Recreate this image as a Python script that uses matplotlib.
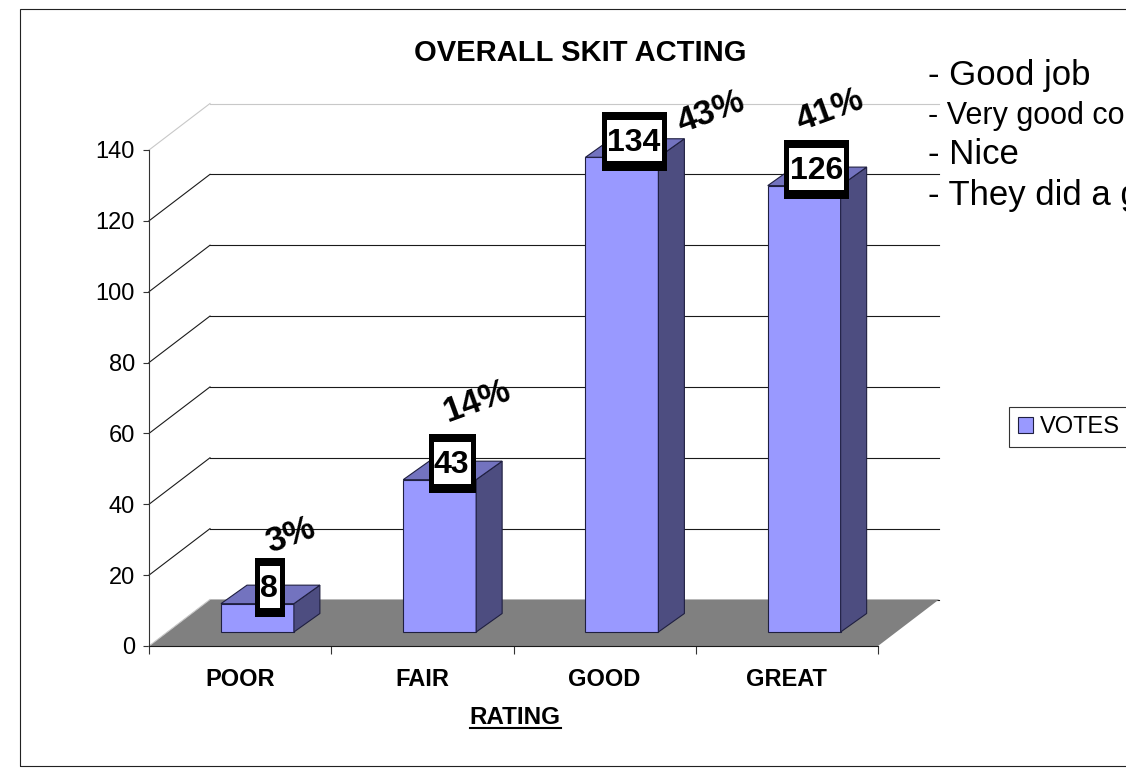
import numpy as np
import matplotlib
matplotlib.use("Agg")
import matplotlib.pyplot as plt
from matplotlib.lines import Line2D
from matplotlib.patches import Rectangle
from matplotlib.path import Path

categories = ["POOR", "FAIR", "GOOD", "GREAT"]
votes = [8, 43, 134, 126]
percents = ["3%", "14%", "43%", "41%"]
y_ticks = [0, 20, 40, 60, 80, 100, 120, 140]
comments = ["- Good job", "- Very good co", "- Nice", "- They did a g"]

W, H = 1126, 778
plt.rcParams["font.family"] = ["Liberation Sans", "DejaVu Sans"]

fig = plt.figure(figsize=(W / 100, H / 100), dpi=100)
# front plane of the fake 3d box, in pixels: x 149-878, y 150-646
ax = fig.add_axes([149 / W, 1 - 646 / H, 729 / W, 496 / H])
ax.set_xlim(0, 4)
ax.set_ylim(0, 140)
ax.patch.set_alpha(0)

px_x = 4 / 729
px_y = 140 / 496
depth_x = 61 * px_x
depth_y = 46.5 * px_y

# walls
for v in y_ticks:
    col = "#c8c8c8" if v == 140 else "#1a1a1a"
    ax.plot([depth_x, 4 + depth_x], [v + depth_y, v + depth_y], color=col, lw=0.8, clip_on=False, zorder=1)
    col = "#c8c8c8" if v in (0, 140) else "#1a1a1a"
    z = 2.5 if v == 0 else 1
    ax.plot([0, depth_x], [v, v + depth_y], color=col, lw=0.8, clip_on=False, zorder=z)

# floor
ax.fill([0, 4, 4 + depth_x, depth_x], [0, 0, depth_y, depth_y], color="#808080", lw=0, clip_on=False, zorder=2)

# bars
centers = np.arange(4) + 0.595
bar_w = 0.4
base = 14 * px_y
bar_dx = 26 * px_x
bar_dy = 18.5 * px_y
edge = "#1f1f40"
bars = ax.bar(centers, votes, bar_w, bottom=base, color="#9999ff", edgecolor=edge, lw=0.8, zorder=3, clip_on=False, label="VOTES")
for c, v in zip(centers, votes):
    left = c - bar_w / 2
    right = c + bar_w / 2
    top = base + v
    ax.fill([right, right + bar_dx, right + bar_dx, right],
            [base, base + bar_dy, top + bar_dy, top],
            facecolor="#4d4d80", edgecolor=edge, lw=0.8, clip_on=False, zorder=3)
    ax.fill([left, left + bar_dx, right + bar_dx, right],
            [top, top + bar_dy, top + bar_dy, top],
            facecolor="#7373bf", edgecolor=edge, lw=0.8, clip_on=False, zorder=3)


def tall_box(x0, y0, width, height, mutation_size):
    # label box in the original: thin sides, thick top, thicker bottom
    pad_x = 0.1 * mutation_size
    half = 0.845 * mutation_size
    mid = y0 + height / 2 + 2
    x1 = x0 + width + pad_x
    x0 = x0 - pad_x
    low = mid - half
    high = mid + half
    verts = [(x0, low), (x1, low), (x1, high), (x0, high), (x0, low),
             (x0, high - 3), (x1, high - 3),
             (x0, low + 4.5), (x1, low + 4.5)]
    codes = [Path.MOVETO, Path.LINETO, Path.LINETO, Path.LINETO, Path.CLOSEPOLY,
             Path.MOVETO, Path.LINETO,
             Path.MOVETO, Path.LINETO]
    return Path(verts, codes)


# value boxes sit a fixed distance from the bar top
for c, v in zip(centers, votes):
    ax.annotate(str(v), (c, base + v), xytext=(8.6, 10.5), textcoords="offset points",
                ha="center", va="center", fontsize=23, fontweight="bold", zorder=6,
                bbox=dict(boxstyle=tall_box, fc="white", ec="black", lw=3.6))

# percent labels were dragged by hand in the original
pct_pixels = [(291, 535), (477, 401), (711, 112), (830, 110)]
for label, (x, y) in zip(percents, pct_pixels):
    fig.text(x / W, 1 - y / H, label, ha="center", va="center", rotation=20,
             fontsize=25, fontweight="bold", zorder=7)

# axes
for s in ["top", "right"]:
    ax.spines[s].set_visible(False)
ax.spines["left"].set_color("#333333")
ax.spines["bottom"].set_color("#1a1a1a")
ax.set_yticks(y_ticks)
ax.tick_params(axis="y", length=4, width=0.8, pad=6, labelsize=17, color="#333333")
ax.set_xticks(np.arange(5))
ax.set_xticklabels([])
ax.tick_params(axis="x", which="major", length=6, width=0.8, color="#333333")
ax.set_xticks(np.arange(4) + 0.5, minor=True)
ax.set_xticklabels(categories, minor=True, fontsize=17, fontweight="bold")
ax.tick_params(axis="x", which="minor", length=0, pad=16)

# titles
fig.text(580 / W, 1 - 53 / H, "OVERALL SKIT ACTING", ha="center", va="center", fontsize=21, fontweight="bold")
rating = fig.text(515 / W, 1 - 717 / H, "RATING", ha="center", va="center", fontsize=17.5, fontweight="bold")
fig.canvas.draw()
box = rating.get_window_extent()
fig.add_artist(Line2D([box.x0 / W, box.x1 / W], [(box.y0 + 1) / H, (box.y0 + 1) / H], color="black", lw=1.5))

# pasted comments
comment_sizes = [25, 22, 25, 25]
comment_y = [75, 116, 155, 195]
for txt, size, y in zip(comments, comment_sizes, comment_y):
    fig.text(928 / W, 1 - y / H, txt, ha="left", va="center", fontsize=size, zorder=8)

leg = ax.legend(handles=[bars], loc="center left", bbox_to_anchor=(1009 / W, 1 - 427 / H),
                bbox_transform=fig.transFigure, fontsize=17, fancybox=False, framealpha=1,
                edgecolor="#333333", handlelength=0.64, handleheight=0.64, handletextpad=0.27,
                borderpad=0.38, borderaxespad=0)
leg.get_frame().set_linewidth(0.8)
leg.set_zorder(5)

# chart frame runs off the right side
fig.add_artist(Rectangle((20 / W, 1 - 766 / H), 1200 / W, 757 / H, fill=False, ec="#222222", lw=0.8,
                         transform=fig.transFigure))

fig.savefig("out.png", dpi=100)
